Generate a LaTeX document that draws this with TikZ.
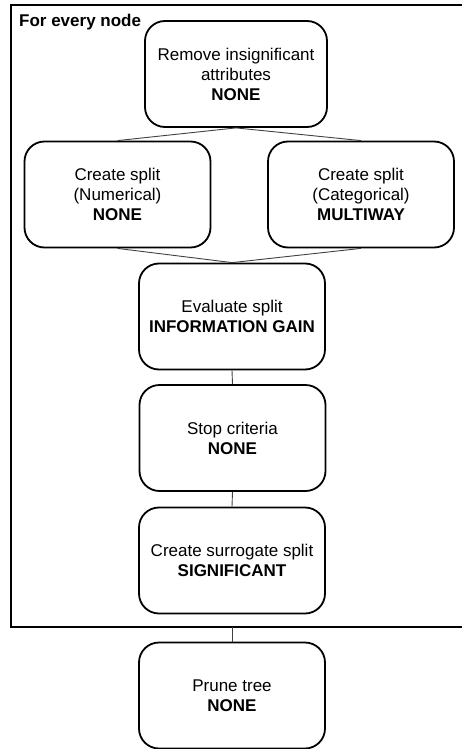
\documentclass[tikz,border=0pt]{standalone}
\usepackage{fontspec}
\setmainfont{Liberation Sans}
\tikzset{
  stepbox/.style={draw, line width=1.8pt, rounded corners=20pt,
    minimum width=186pt, minimum height=106pt, align=center,
    font=\fontsize{17}{20}\selectfont, inner sep=2pt},
  link/.style={line width=0.9pt, black!75},
}
\begin{document}
\begin{tikzpicture}[x=1pt, y=-1pt]
    \useasboundingbox (0,0) rectangle (461,749);
    % outer loop frame
    \draw[line width=2pt] (11,5) rectangle (480,627);
    \node[anchor=north west, inner sep=0pt, font=\fontsize{17}{20}\selectfont\bfseries] (loop) at (19,14) {For every node};
    % steps
    \node[stepbox, minimum width=182pt] (remove) at (236,74) {Remove insignificant\\attributes\\\textbf{NONE}};
    \node[stepbox] (numerical) at (117.5,194.5) {Create split\\(Numerical)\\\textbf{NONE}};
    \node[stepbox] (categorical) at (361,194.5) {Create split\\(Categorical)\\\textbf{MULTIWAY}};
    \node[stepbox] (evaluate) at (232,316.5) {Evaluate split\\\textbf{INFORMATION GAIN}};
    \node[stepbox] (stop) at (232.5,438) {Stop criteria\\\textbf{NONE}};
    \node[stepbox] (surrogate) at (232,560.5) {Create surrogate split\\\textbf{SIGNIFICANT}};
    \node[stepbox] (prune) at (232,695.5) {Prune tree\\\textbf{NONE}};
    \coordinate (loopend) at (232,627);
    % connectors
    \draw[link] (remove.south) -- (numerical.north);
    \draw[link] (remove.south) -- (categorical.north);
    \draw[link] (numerical.south) -- (evaluate.north);
    \draw[link] (categorical.south) -- (evaluate.north);
    \draw[link] (evaluate.south) -- (stop.north);
    \draw[link] (stop.south) -- (surrogate.north);
    \draw[link] (loopend) -- (prune.north);
\end{tikzpicture}
\end{document}
